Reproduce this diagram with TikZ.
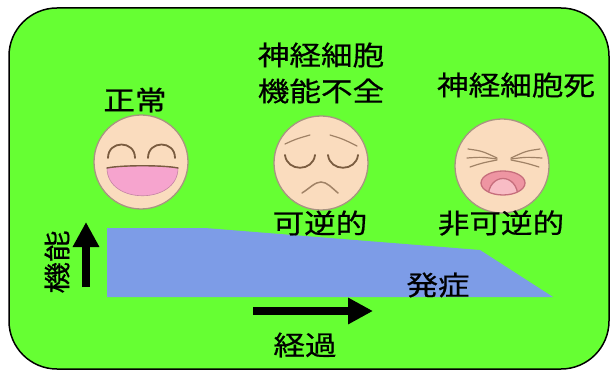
\documentclass[tikz,border=0pt]{standalone}
\usepackage{fontspec}
\usetikzlibrary{arrows.meta}
\newfontfamily\jpfont{Noto Sans CJK JP}[FakeStretch=1.17,FakeBold=0.6]
\definecolor{panelgreen}{HTML}{66FF33}
\definecolor{stageblue}{HTML}{7D9CE7}
\definecolor{skin}{HTML}{FADCBE}
\definecolor{skinline}{HTML}{A89482}
\definecolor{featline}{HTML}{7A5C40}
\definecolor{mouthpink}{HTML}{F6A4CE}
\definecolor{cryouter}{HTML}{EE95A2}
\definecolor{cryline}{HTML}{C66E7C}
\definecolor{cryinner}{HTML}{F8BCC5}
\begin{document}
\begin{tikzpicture}[x=1pt,y=-1pt,
  label/.style={font=\jpfont\fontsize{27}{36}\selectfont, inner sep=0pt, align=center},
  face/.style={circle, draw=skinline, line width=1.3pt, fill=skin, minimum size=94pt, inner sep=0pt},
  feature/.style={draw=featline, line width=1.8pt, line cap=round},
  softfeature/.style={draw=featline!70!skin, line width=1.2pt, line cap=round},
  bigarrow/.style={line width=8pt, -{Triangle[width=25pt,length=25pt]}}]
  \useasboundingbox (0,0) rectangle (612,371);

  % background panel
  \draw[fill=panelgreen, line width=1.5pt, rounded corners=48pt] (9,8) rectangle (609,369);

  % decline of function over time
  \fill[stageblue] (107,228) -- (205,228) -- (480,250) -- (553,297) -- (107,297) -- cycle;

  % faces
  \node[face] (normal) at (141,162) {};
  \node[face] (impaired) at (321,163) {};
  \node[face] (dead) at (502,166) {};

  % laughing face
  \begin{scope}[shift={(normal.center)}]
    \path[fill=mouthpink, draw=mouthpink!80!black, line width=0.6pt]
      (-34,6) .. controls (-20,3) and (23,3) .. (37,6)
      .. controls (37,43) and (-34,43) .. cycle;
    \draw[feature, line width=1.4pt] (-34,6) .. controls (-20,3) and (23,3) .. (37,6);
    \draw[feature] (-33,-4) .. controls (-33,-22) and (-6,-22) .. (-6,-4);
    \draw[feature] (7,-4) .. controls (7,-22) and (34,-22) .. (34,-4);
  \end{scope}

  % troubled face
  \begin{scope}[shift={(impaired.center)}]
    \draw[softfeature] (-36,-19) .. controls (-25,-24) .. (-11,-28);
    \draw[softfeature] (9,-28) .. controls (22,-24) .. (36,-17);
    \draw[feature] (-36,-8) .. controls (-34,9) and (-8,9) .. (-6,-8);
    \draw[feature] (7,-8) .. controls (9,9) and (35,9) .. (37,-8);
    \draw[softfeature, line width=1.5pt] (-19,30) .. controls (-11,25) and (-6,19) .. (0,19)
      .. controls (6,19) and (11,25) .. (17,30);
  \end{scope}

  % crying face
  \begin{scope}[shift={(dead.center)}]
    \draw[softfeature] (-34,-17) .. controls (-20,-15) .. (-5,-8);
    \draw[softfeature] (-35,-8) .. controls (-20,-9) .. (-5,-7);
    \draw[softfeature] (-32,1) .. controls (-20,-3) .. (-5,-6);
    \draw[softfeature] (38,-17) .. controls (24,-15) .. (9,-8);
    \draw[softfeature] (40,-8) .. controls (24,-9) .. (9,-7);
    \draw[softfeature] (37,1) .. controls (24,-3) .. (9,-6);
    \path[fill=cryouter] (1,17) ellipse [x radius=22, y radius=12];
    \begin{scope}
      \clip (1,17) ellipse [x radius=22, y radius=12];
      \fill[cryinner] (-14,32) .. controls (-14,6) and (16,6) .. (16,32) -- cycle;
      \draw[draw=cryline, line width=1.3pt] (-14,32) .. controls (-14,6) and (16,6) .. (16,32);
    \end{scope}
    \draw[draw=cryline, line width=1.3pt] (1,17) ellipse [x radius=22, y radius=12];
  \end{scope}

  % labels
  \node[label] (tnormal) at (135,100) {正常};
  \node[label] (timpaired) at (321,73) {神経細胞\\機能不全};
  \node[label] (tdead) at (516,85) {神経細胞死};
  \node[label] (trev) at (320,223) {可逆的};
  \node[label] (tirrev) at (501,223) {非可逆的};
  \node[label] (tonset) at (438,285) {発症};
  \node[label] (ttime) at (305,345) {経過};
  \node[label, rotate=90] (tfunc) at (57,262) {機能};

  % axes arrows
  \coordinate (upbase) at (86,287);
  \coordinate (uptip) at (86,222);
  \draw[bigarrow] (upbase) -- (uptip);
  \coordinate (rightbase) at (253,311);
  \coordinate (righttip) at (373,311);
  \draw[bigarrow] (rightbase) -- (righttip);
\end{tikzpicture}
\end{document}
